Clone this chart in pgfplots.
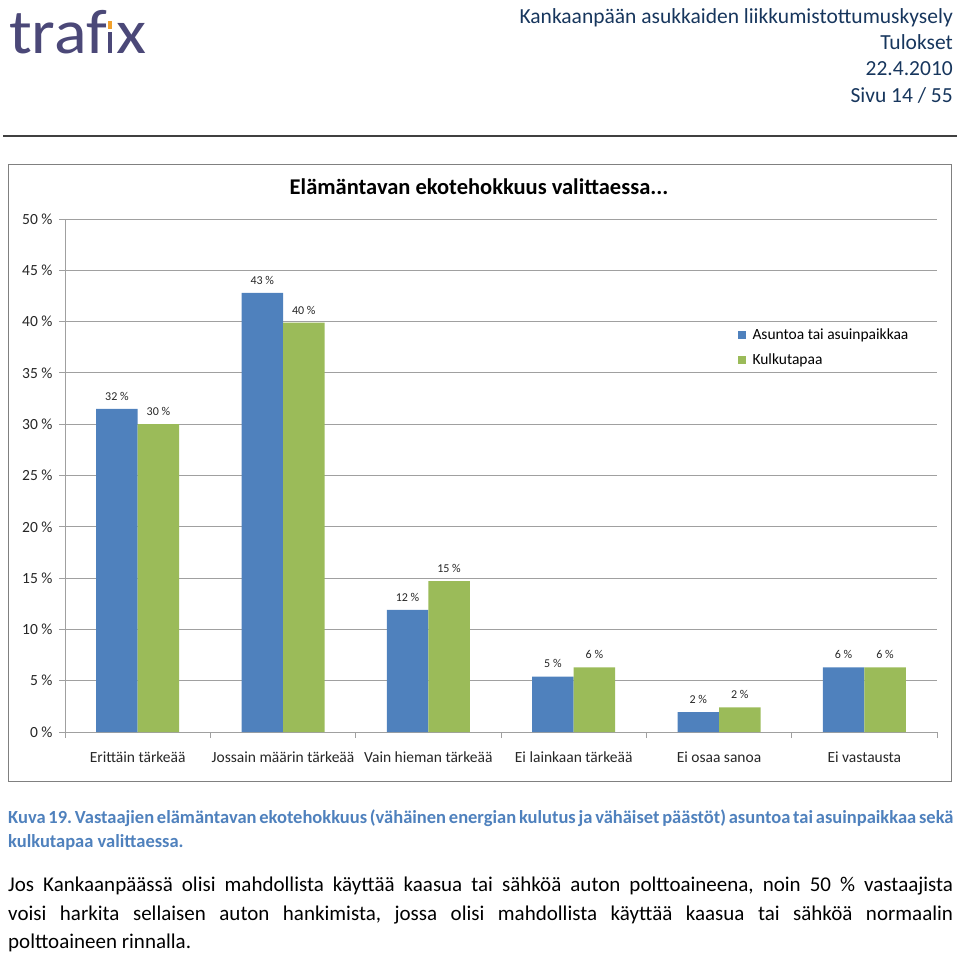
\documentclass[border=0pt]{standalone}
\usepackage{fontspec}
\setmainfont{Carlito}
\usepackage{pgfplots}
\usepackage{pgfplotstable}
\pgfplotsset{compat=1.18}

\definecolor{barblue}{HTML}{4F81BD}
\definecolor{bargreen}{HTML}{9BBB59}
\definecolor{logo}{HTML}{4B4878}
\definecolor{logoorange}{HTML}{F2A12C}
\definecolor{headblue}{HTML}{17365D}
\definecolor{gridgray}{HTML}{A0A0A0}
\definecolor{capblue}{HTML}{4F81BD}

\newcommand\fs[1]{\fontsize{#1bp}{#1bp}\selectfont}

% share of respondents, percent
\pgfplotstableread{
x  a    alab k    klab
0  31.5 32   30.0 30
1  42.8 43   39.9 40
2  11.9 12   14.7 15
3  5.4  5    6.3  6
4  1.95 2    2.4  2
5  6.3  6    6.3  6
}\ecodata

\begin{document}
\frenchspacing
\begin{tikzpicture}[x=1bp,y=1bp]
\path[use as bounding box] (0,0) rectangle (960,-956);

% logo
\node[anchor=base west,inner sep=0,text=logo,font=\fs{63}] at (9,-53) {\scalebox{1.08}[1]{traf}};
\fill[logo] (108,-53) rectangle (112,-32);
\fill[logoorange] (108,-29) rectangle (112,-21);
\node[anchor=base west,inner sep=0,text=logo,font=\fs{63}] at (116,-53) {\scalebox{1.1}[1]{x}};

% header
\begin{scope}[every node/.style={anchor=base east,inner sep=0,text=headblue,font=\fs{21.5}}]
\node at (953,-23) {Kankaanpään asukkaiden liikkumistottumuskysely};
\node at (953,-49) {Tulokset};
\node at (953,-75) {22.4.2010};
\node at (953,-102) {Sivu 14 / 55};
\end{scope}
\draw[line width=1.5bp,black!75] (3,-136) -- (957,-136);

% chart frame and title
\draw[gray,line width=1bp] (8,-164) rectangle (951,-781);
\node[font=\bfseries\fs{22.5}] at (479,-187) {Elämäntavan ekotehokkuus valittaessa...};

\begin{axis}[
  at={(65bp,-732bp)}, anchor=south west,
  scale only axis, width=872bp, height=513bp,
  ybar=0pt, bar width=41.5bp,
  xmin=-0.5, xmax=5.5, ymin=0, ymax=50,
  axis x line*=bottom, axis y line*=left,
  axis line style={-,gridgray,line width=1bp},
  ytick={0,5,...,50}, ymajorgrids,
  grid style={gridgray,line width=1bp},
  yticklabel={\pgfmathprintnumber{\tick}\ \%},
  xtick={-0.5,0.5,...,5.5}, x tick label as interval,
  xticklabels={Erittäin tärkeää,Jossain määrin tärkeää,Vain hieman tärkeää,Ei lainkaan tärkeää,Ei osaa sanoa,Ei vastausta},
  tick align=outside, major tick length=6bp,
  tick style={gridgray,line width=1bp},
  tick label style={font=\fs{15.5},text=black!85},
  x tick label style={yshift=-10bp},
  y tick label style={xshift=-3bp},
  /pgf/number format/assume math mode=true,
  point meta=explicit symbolic,
  nodes near coords={\pgfplotspointmeta\ \%},
  every node near coord/.append style={font=\fs{12},text=black!85,yshift=5bp},
  legend style={at={(0.771,0.79)},anchor=north west,draw=none,fill=none,
    font=\fs{15.5},row sep=9bp,inner sep=0pt},
  legend cell align=left,
  sq/.style={legend image code/.code={\path[##1,draw=none] (0bp,-4bp) rectangle (8bp,4bp);\path (13bp,0bp);}},
]
\addplot[fill=barblue,draw=none,sq] table[x=x,y=a,meta=alab] {\ecodata};
\addlegendentry{Asuntoa tai asuinpaikkaa}
\addplot[fill=bargreen,draw=none,sq] table[x=x,y=k,meta=klab] {\ecodata};
\addlegendentry{Kulkutapaa}
\end{axis}

% caption
\begin{scope}[every node/.style={anchor=base west,inner sep=0,text=capblue,font=\bfseries\fs{18.5}}]
\node at (8,-823) {\makebox[945bp][s]{Kuva 19. Vastaajien elämäntavan ekotehokkuus (vähäinen energian kulutus ja vähäiset päästöt) asuntoa tai asuinpaikkaa sekä}};
\node at (8,-847) {kulkutapaa valittaessa.};
\end{scope}

% body text
\begin{scope}[every node/.style={anchor=base west,inner sep=0,font=\fs{21}}]
\node at (8,-891) {\makebox[945bp][s]{Jos Kankaanpäässä olisi mahdollista käyttää kaasua tai sähköä auton polttoaineena, noin 50 \% vastaajista}};
\node at (8,-920) {\makebox[945bp][s]{voisi harkita sellaisen auton hankimista, jossa olisi mahdollista käyttää kaasua tai sähköä normaalin}};
\node at (8,-948) {polttoaineen rinnalla.};
\end{scope}
\end{tikzpicture}
\end{document}
